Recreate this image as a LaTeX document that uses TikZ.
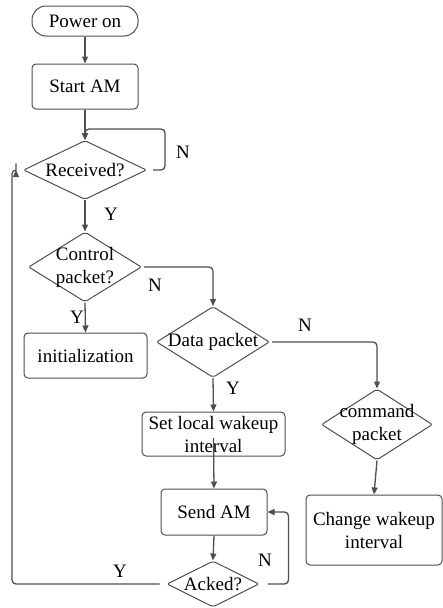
\documentclass[tikz,border=0pt]{standalone}
\usepackage{fontspec}
\setmainfont{Liberation Serif}
\usetikzlibrary{shapes.geometric,arrows.meta}
\definecolor{linegray}{RGB}{78,78,78}
\begin{document}
\begin{tikzpicture}[x=1pt,y=-1pt,
  font=\fontsize{19}{23}\selectfont,
  every node/.style={text=black},
  stadium/.style={draw=linegray,line width=1pt,rounded corners=14pt,minimum width=106pt,minimum height=30pt,inner sep=0pt},
  procbox/.style={draw=linegray,line width=1pt,rounded corners=4pt,align=center,inner sep=0pt},
  decision/.style={draw=linegray,line width=1pt,shape=diamond,inner sep=-30pt,align=center,rounded corners=2pt},
  conn/.style={draw=linegray,line width=1.3pt,rounded corners=4pt,-{Triangle[length=7pt,width=6pt]}},
  lbl/.style={inner sep=0pt}]
\useasboundingbox (0,0) rectangle (443,608);

% blocks
\node[stadium] (power) at (85,21) {Power on};
\node[procbox,minimum width=106pt,minimum height=45pt] (start) at (85,86.5) {Start AM};
\node[decision,minimum width=123pt,minimum height=59pt] (recv) at (85,170) {Received?};
\node[decision,minimum width=113pt,minimum height=70pt] (ctrl) at (85,267) {Control\\packet?};
\node[procbox,minimum width=123pt,minimum height=45pt] (init) at (85.5,355.5) {initialization};
\node[decision,minimum width=113pt,minimum height=71pt] (data) at (213,342) {Data packet};
\node[procbox,minimum width=143pt,minimum height=44pt] (setlocal) at (213.5,434) {Set local wakeup\\interval};
\node[procbox,minimum width=106pt,minimum height=46pt] (send) at (214,512) {Send AM};
\node[decision,minimum width=92pt,minimum height=46pt] (acked) at (213,584) {Acked?};
\node[decision,minimum width=111pt,minimum height=71pt] (cmd) at (377,424.5) {command\\packet};
\node[procbox,minimum width=136pt,minimum height=70pt] (change) at (374,530) {Change wakeup\\interval};

% helper points for the loops
\coordinate (rloop) at (165,129);
\coordinate (aloop) at (12,170);

% main flow
\draw[conn] (power.south) -- (start.north);
\draw[conn] (start.south) -- (recv.north);
\draw[conn] ([xshift=6pt]recv.east) -| (rloop) -| (recv.north);
\node[lbl] at (183,152) {N};

\draw[conn] (recv.south) -- (ctrl.north);
\node[lbl] at (111,214) {Y};

\draw[conn] ([xshift=2pt]ctrl.east) -| (data.north);
\node[lbl] at (155,285) {N};

\draw[conn] (ctrl.south) -- (init.north);
\node[lbl] at (77,317) {Y};

\draw[conn] ([xshift=2pt]data.east) -| (cmd.north);
\node[lbl] at (305,325) {N};

\draw[conn] (data.south) -- (setlocal.north);
\node[lbl] at (233,388) {Y};

\draw[conn] ([yshift=-4pt]setlocal.center) -- (send.north);
\draw[conn] (cmd.south) -- (change.north);
\draw[conn] (send.south) -- (acked.north);

\draw[conn] ([xshift=8pt]acked.east) -| ([xshift=21pt]send.east) -- (send.east);
\node[lbl] at (265,560) {N};

\draw[conn] ([xshift=-7pt]acked.west) -| (aloop) -- ([xshift=-7pt]recv.west);
\node[lbl] at (120,571) {Y};
\end{tikzpicture}
\end{document}
